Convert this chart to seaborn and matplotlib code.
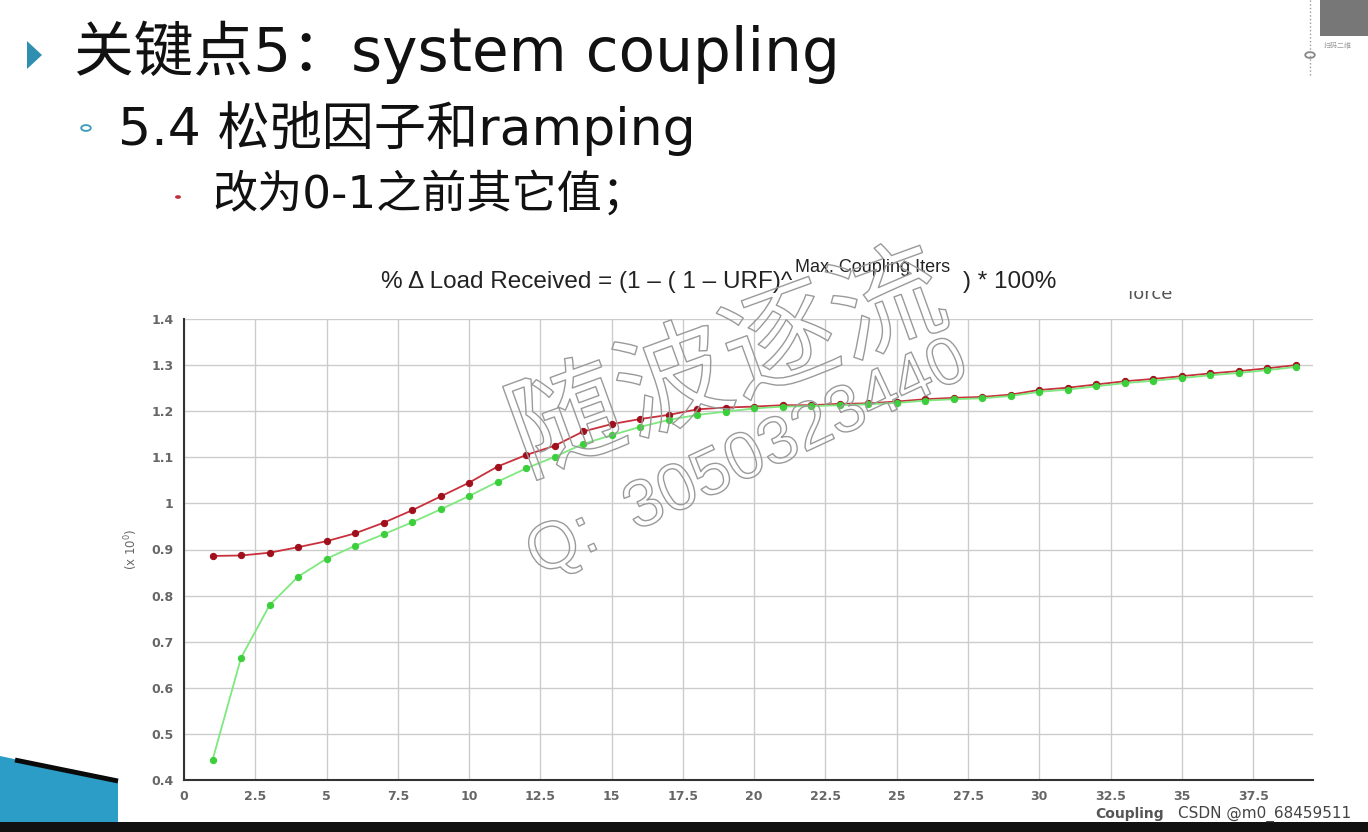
import numpy as np
import pandas as pd
import matplotlib
matplotlib.use("Agg")
import matplotlib.pyplot as plt
import matplotlib.patheffects as pe
from matplotlib.patches import Polygon, Circle, Rectangle
from matplotlib.ticker import FormatStrFormatter, MultipleLocator
from matplotlib.transforms import Bbox
import seaborn as sns

# data
iters = list(range(1, 40))
red_vals = [0.886, 0.887, 0.893, 0.905, 0.918, 0.935, 0.958, 0.985, 1.015, 1.045,
            1.080, 1.105, 1.125, 1.156, 1.172, 1.183, 1.192, 1.204, 1.208, 1.210,
            1.213, 1.213, 1.216, 1.217, 1.221, 1.226, 1.229, 1.231, 1.236, 1.246,
            1.251, 1.258, 1.265, 1.270, 1.276, 1.282, 1.287, 1.293, 1.300]
green_vals = [0.443, 0.665, 0.779, 0.841, 0.880, 0.908, 0.933, 0.959, 0.987, 1.016,
              1.047, 1.076, 1.101, 1.129, 1.148, 1.166, 1.181, 1.192, 1.199, 1.206,
              1.210, 1.211, 1.213, 1.215, 1.218, 1.223, 1.226, 1.228, 1.233, 1.242,
              1.247, 1.254, 1.261, 1.266, 1.272, 1.278, 1.283, 1.289, 1.296]
series_names = ["red", "green"]

title = "关键点5：system coupling"
sub1 = "5.4 松弛因子和ramping"
sub2 = "改为0-1之前其它值；"
formula = "% \u0394 Load Received = (1 \u2013 ( 1 \u2013 URF)^"
formula_sup = "Max. Coupling Iters"
formula_end = ") * 100%"

df = pd.DataFrame({
    "iter": iters * 2,
    "value": red_vals + green_vals,
    "series": [series_names[0]] * len(iters) + [series_names[1]] * len(iters),
})

sns.set_style("white")
plt.rcParams['font.family'] = ['Noto Sans CJK SC', 'DejaVu Sans']
slide_font = ['DejaVu Sans', 'Noto Sans CJK SC']

W, H = 1368, 832
fig = plt.figure(figsize=(W / 100, H / 100), dpi=100)


def fx(px):
    return px / W


def fy(py):
    return 1 - py / H


ax = fig.add_axes([fx(184), fy(780), fx(1313) - fx(184), fy(319) - fy(780)])

line_cols = {"red": "#c8303c", "green": "#7fe87f"}
mark_cols = {"red": "#a0101c", "green": "#3ccf3c"}
for s in series_names:
    sub = df[df["series"] == s]
    sns.lineplot(data=sub, x="iter", y="value", ax=ax, color=line_cols[s],
                 linewidth=1.3, marker="o", markersize=4.5,
                 markerfacecolor=mark_cols[s], markeredgecolor=mark_cols[s],
                 legend=False, zorder=3)

ax.set_xlim(0, 39.6)
ax.set_ylim(0.4, 1.4)
ax.xaxis.set_major_locator(MultipleLocator(2.5))
ax.yaxis.set_major_locator(MultipleLocator(0.1))
ax.xaxis.set_major_formatter(FormatStrFormatter('%g'))
ax.yaxis.set_major_formatter(plt.FuncFormatter(lambda v, p: f"{round(v, 1):g}"))
ax.grid(True, color="#cccccc", linewidth=1.0)
for side in ["top", "right"]:
    ax.spines[side].set_visible(False)
for side in ["left", "bottom"]:
    ax.spines[side].set_color("#333333")
    ax.spines[side].set_linewidth(1.5)
ax.tick_params(axis="both", length=4, width=1.2, color="#333333",
               labelsize=9, labelcolor="#666666", direction="out")
for lab in ax.get_xticklabels() + ax.get_yticklabels():
    lab.set_fontweight("bold")
    lab.set_family("DejaVu Sans")
ax.set_xlabel("")
ax.set_ylabel("(x 10$^0$)", fontsize=8.5, color="#666666", labelpad=8,
              family="DejaVu Sans")

# watermark over the plot
stroke = [pe.Stroke(linewidth=1.0, foreground="#9a9a9a")]
fig.text(fx(728), fy(366), "随波逐流", fontsize=82, rotation=20, ha="center",
         va="center", color="none", zorder=5, path_effects=stroke)
fig.text(fx(748), fy(460), "Q:  3050323440", fontsize=48, rotation=25,
         ha="center", va="center", color="none", zorder=5,
         family="Liberation Sans", path_effects=stroke)

# slide text
fig.text(fx(74), fy(52), title, fontsize=43, va="center", ha="left",
         color="#111111", family=slide_font)
fig.text(fx(118), fy(128), sub1, fontsize=37.5, va="center", ha="left",
         color="#111111", family=slide_font)
fig.text(fx(212), fy(194), sub2, fontsize=32.5, va="center", ha="left",
         color="#111111", family=slide_font)

fig.patches.append(Polygon([[fx(27), fy(41)], [fx(27), fy(69)], [fx(42), fy(55)]],
                           closed=True, transform=fig.transFigure,
                           facecolor="#2f8fb0", edgecolor="none"))
fig.patches.append(Circle((fx(86), fy(128)), 0.0035, transform=fig.transFigure,
                          facecolor="none", edgecolor="#3a9ab8", linewidth=1.3))
fig.patches.append(Circle((fx(178), fy(197)), 0.0022, transform=fig.transFigure,
                          facecolor="#c0303c", edgecolor="none"))

# formula heading
fig.text(fx(792), fy(282), formula, fontsize=17.5, va="center", ha="right",
         color="#222222", family="Liberation Sans")
fig.text(fx(795), fy(268), formula_sup, fontsize=13, va="center", ha="left",
         color="#222222", family="Liberation Sans")
fig.text(fx(963), fy(282), formula_end, fontsize=17.5, va="center", ha="left",
         color="#222222", family="Liberation Sans")

# partly hidden label at the top right of the plot
ft = fig.text(fx(1150), fy(294), "force", fontsize=13, va="center", ha="center",
              color="#555555", family="DejaVu Sans")
ft.set_clip_box(Bbox([[0, H - 299], [W, H - 291]]))
ft.set_clip_on(True)

# x label (mostly covered by the csdn mark in the reference)
fig.text(fx(1095), fy(814), "Coupling", fontsize=10, va="center",
         ha="left", color="#555555", fontweight="bold", family="DejaVu Sans")
fig.text(fx(1178), fy(814), "CSDN @m0_68459511", fontsize=11, va="center",
         ha="left", color="#444444", family="DejaVu Sans")

# bottom band and decoration
fig.patches.append(Rectangle((0, 0), 1, fy(822), transform=fig.transFigure,
                             facecolor="#111111", edgecolor="none"))
fig.patches.append(Polygon([[0, fy(756)], [fx(118), fy(781)], [fx(118), fy(822)], [0, fy(822)]],
                           closed=True, transform=fig.transFigure,
                           facecolor="#2c9dc6", edgecolor="none"))
fig.add_artist(plt.Line2D([fx(15), fx(118)], [fy(760), fy(781)], transform=fig.transFigure,
                          color="#0a0a0a", linewidth=3.5, solid_capstyle="butt"))

# top right corner
fig.add_artist(plt.Line2D([fx(1310), fx(1310)], [1, fy(75)], transform=fig.transFigure,
                          color="#999999", linestyle=":", linewidth=1))
fig.patches.append(Circle((fx(1310), fy(55)), 0.0035, transform=fig.transFigure,
                          facecolor="white", edgecolor="#888888", linewidth=1.3))
fig.patches.append(Rectangle((fx(1320), fy(36)), fx(48), fy(0) - fy(36),
                             transform=fig.transFigure, facecolor="#555555",
                             edgecolor="none", alpha=0.8))
fig.text(fx(1324), fy(46), "扫码二维", fontsize=5, color="#999999", va="center")

fig.savefig("out.png", dpi=100)
